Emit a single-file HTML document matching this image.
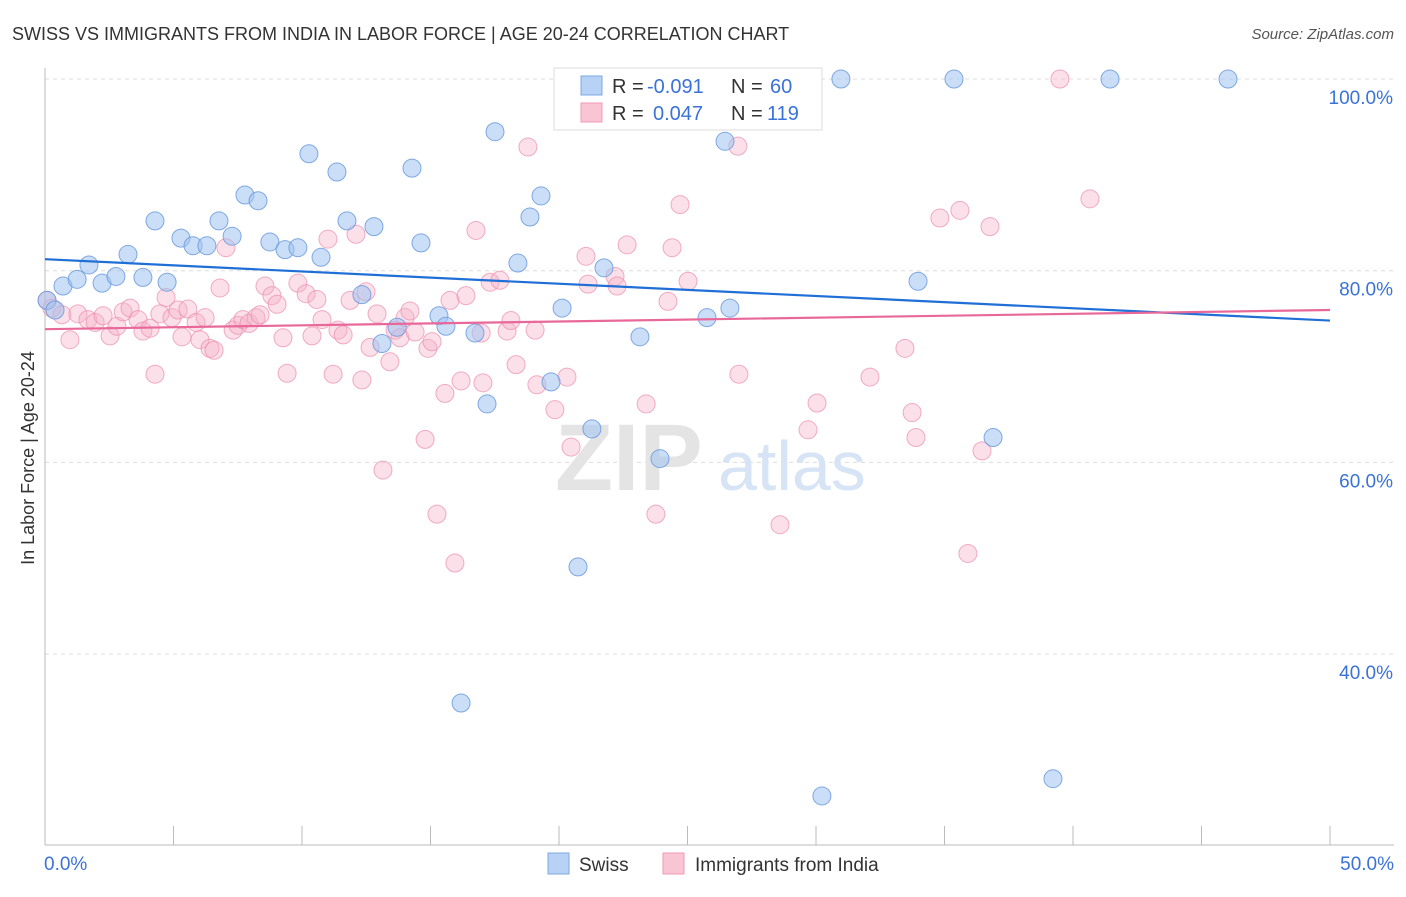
<!DOCTYPE html>
<html><head><meta charset="utf-8">
<style>
body{margin:0;background:#fff;font-family:"Liberation Sans",sans-serif;}
svg text{font-family:"Liberation Sans",sans-serif;}
</style></head>
<body>
<svg id="chart" width="1406" height="892">
<text x="12" y="40" font-size="18" fill="#333">SWISS VS IMMIGRANTS FROM INDIA IN LABOR FORCE | AGE 20-24 CORRELATION CHART</text>
<text x="1394" y="39" font-size="15" fill="#555" text-anchor="end" font-style="italic">Source: ZipAtlas.com</text>
<text x="34" y="458" font-size="18" fill="#333" text-anchor="middle" transform="rotate(-90 34 458)">In Labor Force | Age 20-24</text>
<g id="grid"></g>
<g><text x="555" y="490" font-size="95" fill="#e4e4e4" font-family="Liberation Serif" font-weight="bold">ZIP</text><text x="718" y="490" font-size="70" fill="#d6e4f5">atlas</text></g>
<g id="axes"></g>
<g id="pinkpts"></g>
<g id="bluepts"></g>
<g id="lines"></g>
<g>
<rect x="554" y="68" width="268" height="62" fill="#fff" stroke="#ddd"/>
<rect x="581" y="76" width="21" height="19" fill="#b7d2f4" stroke="#7ea8e2"/>
<rect x="581" y="103" width="21" height="19" fill="#f9c4d3" stroke="#f09ab4"/>
<text x="612" y="93" font-size="20" fill="#333">R =</text>
<text x="647" y="93" font-size="20" fill="#3a72d8">-0.091</text>
<text x="731" y="93" font-size="20" fill="#333">N =</text>
<text x="770" y="93" font-size="20" fill="#3a72d8">60</text>
<text x="612" y="120" font-size="20" fill="#333">R =</text>
<text x="653" y="120" font-size="20" fill="#3a72d8">0.047</text>
<text x="731" y="120" font-size="20" fill="#333">N =</text>
<text x="767" y="120" font-size="20" fill="#3a72d8">119</text>
</g>
<g>
<rect x="548" y="853" width="21" height="21" fill="#b7d2f4" stroke="#7ea8e2"/>
<text x="579" y="871" font-size="19" fill="#333">Swiss</text>
<rect x="663" y="853" width="21" height="21" fill="#f9c4d3" stroke="#f09ab4"/>
<text x="695" y="871" font-size="19" fill="#333">Immigrants from India</text>
</g>
</svg>
<script>
const yTicks=[100,80,60,40];
const yTickLabels=["100.0%","80.0%","60.0%","40.0%"];
const xTickLabels=["0.0%","50.0%"];
const swissX=[0.08,0.39,0.70,1.25,1.71,2.22,2.76,3.23,3.81,4.28,4.75,5.29,5.76,6.30,6.77,7.28,7.78,8.29,8.75,9.34,9.84,10.27,10.74,11.36,11.75,12.33,12.80,13.11,13.70,14.28,14.63,15.33,15.60,16.19,16.73,17.20,17.51,18.40,18.87,19.30,19.69,20.12,20.74,21.28,21.75,23.15,23.93,25.76,26.46,26.65,30.23,30.97,33.97,35.37,36.89,39.22,41.44,46.03];
const swissY=[76.9,75.9,78.4,79.1,80.6,78.7,79.4,81.7,79.3,85.2,78.8,83.4,82.6,82.6,85.2,83.6,87.9,87.3,83.0,82.2,82.4,92.2,81.4,90.3,85.2,77.5,84.6,72.4,74.1,90.7,82.9,75.3,74.2,34.9,73.5,66.1,94.5,80.8,85.6,87.8,68.4,76.1,49.1,63.5,80.3,73.1,60.4,75.1,93.5,76.1,25.2,100,78.9,100,62.6,27.0,100,100];
const indiaX=[0.08,0.27,0.66,0.97,1.28,1.67,1.95,2.26,2.53,2.80,3.04,3.31,3.62,3.81,4.09,4.28,4.47,4.71,4.94,5.18,5.33,5.56,5.88,6.03,6.23,6.42,6.58,6.81,7.04,7.32,7.51,7.70,7.94,8.21,8.37,8.56,8.83,9.03,9.26,9.42,9.84,10.16,10.39,10.58,10.78,11.01,11.21,11.40,11.60,11.87,12.10,12.33,12.49,12.65,12.92,13.15,13.42,13.62,13.81,14.01,14.20,14.40,14.79,14.90,15.06,15.25,15.56,15.76,15.95,16.19,16.38,16.77,16.97,17.04,17.32,17.70,17.98,18.13,18.33,18.79,19.07,19.14,19.84,20.31,20.47,21.05,21.13,22.18,22.26,22.65,23.39,23.77,24.24,24.40,24.71,25.02,26.96,27.00,28.60,29.69,30.04,32.10,33.46,33.74,33.89,34.82,35.60,35.91,36.46,36.77,39.49,40.66,29.38,20.16,25.02];
const indiaY=[76.9,76.1,75.4,72.8,75.5,74.9,74.6,75.3,73.2,74.2,75.7,76.1,74.9,73.7,74.0,69.2,75.5,77.2,75.1,75.9,73.1,76.0,74.6,72.8,75.1,71.9,71.7,78.2,82.4,73.8,74.3,74.9,74.5,75.1,75.4,78.4,77.4,76.5,73.0,69.3,78.7,77.6,73.2,77.0,74.9,83.3,69.2,73.8,73.3,76.9,83.8,68.6,77.8,72.0,75.5,59.2,70.5,73.8,73.0,75.1,75.8,73.6,62.4,71.9,72.6,54.6,67.2,76.9,49.5,68.5,77.4,84.2,73.5,68.3,78.8,79.0,73.7,74.8,70.2,92.9,73.8,68.1,65.5,68.9,61.6,81.5,78.6,79.4,78.4,82.7,66.1,54.6,76.8,82.4,86.9,78.9,93.0,69.2,53.5,63.4,66.2,68.9,71.9,65.2,62.6,85.5,86.3,50.5,61.2,84.6,100,87.5,100,100,100];
const swissTrend=[81.2,74.8];
const indiaTrend=[73.9,75.9];
const NS="http://www.w3.org/2000/svg";
const xS=v=>45+v*25.7;
const yS=v=>79+(100-v)*9.585;
function mk(tag,attrs,parent){const e=document.createElementNS(NS,tag);for(const k in attrs)e.setAttribute(k,attrs[k]);parent.appendChild(e);return e;}
const grid=document.getElementById('grid'),axes=document.getElementById('axes');
yTicks.forEach((t,i)=>{
 const l=mk('line',{x1:45,x2:1394,y1:yS(t),y2:yS(t),stroke:'#ddd','stroke-dasharray':'4,4'},grid);
 
 
 const tx=mk('text',{x:1393,y:yS(t)+25,'font-size':19,fill:'#3a72d8','text-anchor':'end'},axes);
 tx.textContent=yTickLabels[i];
 
 
});
const xa=mk('line',{x1:45,x2:1394,y1:845,y2:845,stroke:'#bbb'},axes);


const ya=mk('line',{x1:45,x2:45,y1:68,y2:845,stroke:'#bbb'},axes);


for(let v=5;v<=50;v+=5){
 const t=mk('line',{x1:xS(v),x2:xS(v),y1:826,y2:845,stroke:'#bbb'},axes);
 
 
}
[[0,'start',44],[50,'end',1394]].forEach((p,i)=>{
 const tx=mk('text',{x:p[2],y:870,'font-size':19,fill:'#3a72d8','text-anchor':p[1]},axes);
 tx.textContent=xTickLabels[i];
 
 
});
const pp=document.getElementById('pinkpts');
indiaX.forEach((x,i)=>{
 const c=mk('circle',{cx:xS(x),cy:yS(indiaY[i]),r:9,fill:'rgba(246,178,200,0.4)',stroke:'rgba(236,140,170,0.7)','stroke-width':1},pp);
 
 
});
const bp=document.getElementById('bluepts');
swissX.forEach((x,i)=>{
 const c=mk('circle',{cx:xS(x),cy:yS(swissY[i]),r:9,fill:'rgba(160,195,240,0.55)',stroke:'rgba(100,150,220,0.8)','stroke-width':1},bp);
 
 
});
const lg=document.getElementById('lines');
const bl=mk('line',{x1:xS(0),x2:xS(50),y1:yS(swissTrend[0]),y2:yS(swissTrend[1]),stroke:'#1f6fd6','stroke-width':2.2},lg);


const pl=mk('line',{x1:xS(0),x2:xS(50),y1:yS(indiaTrend[0]),y2:yS(indiaTrend[1]),stroke:'#e8689a','stroke-width':2.2},lg);


</script>
</body></html>
